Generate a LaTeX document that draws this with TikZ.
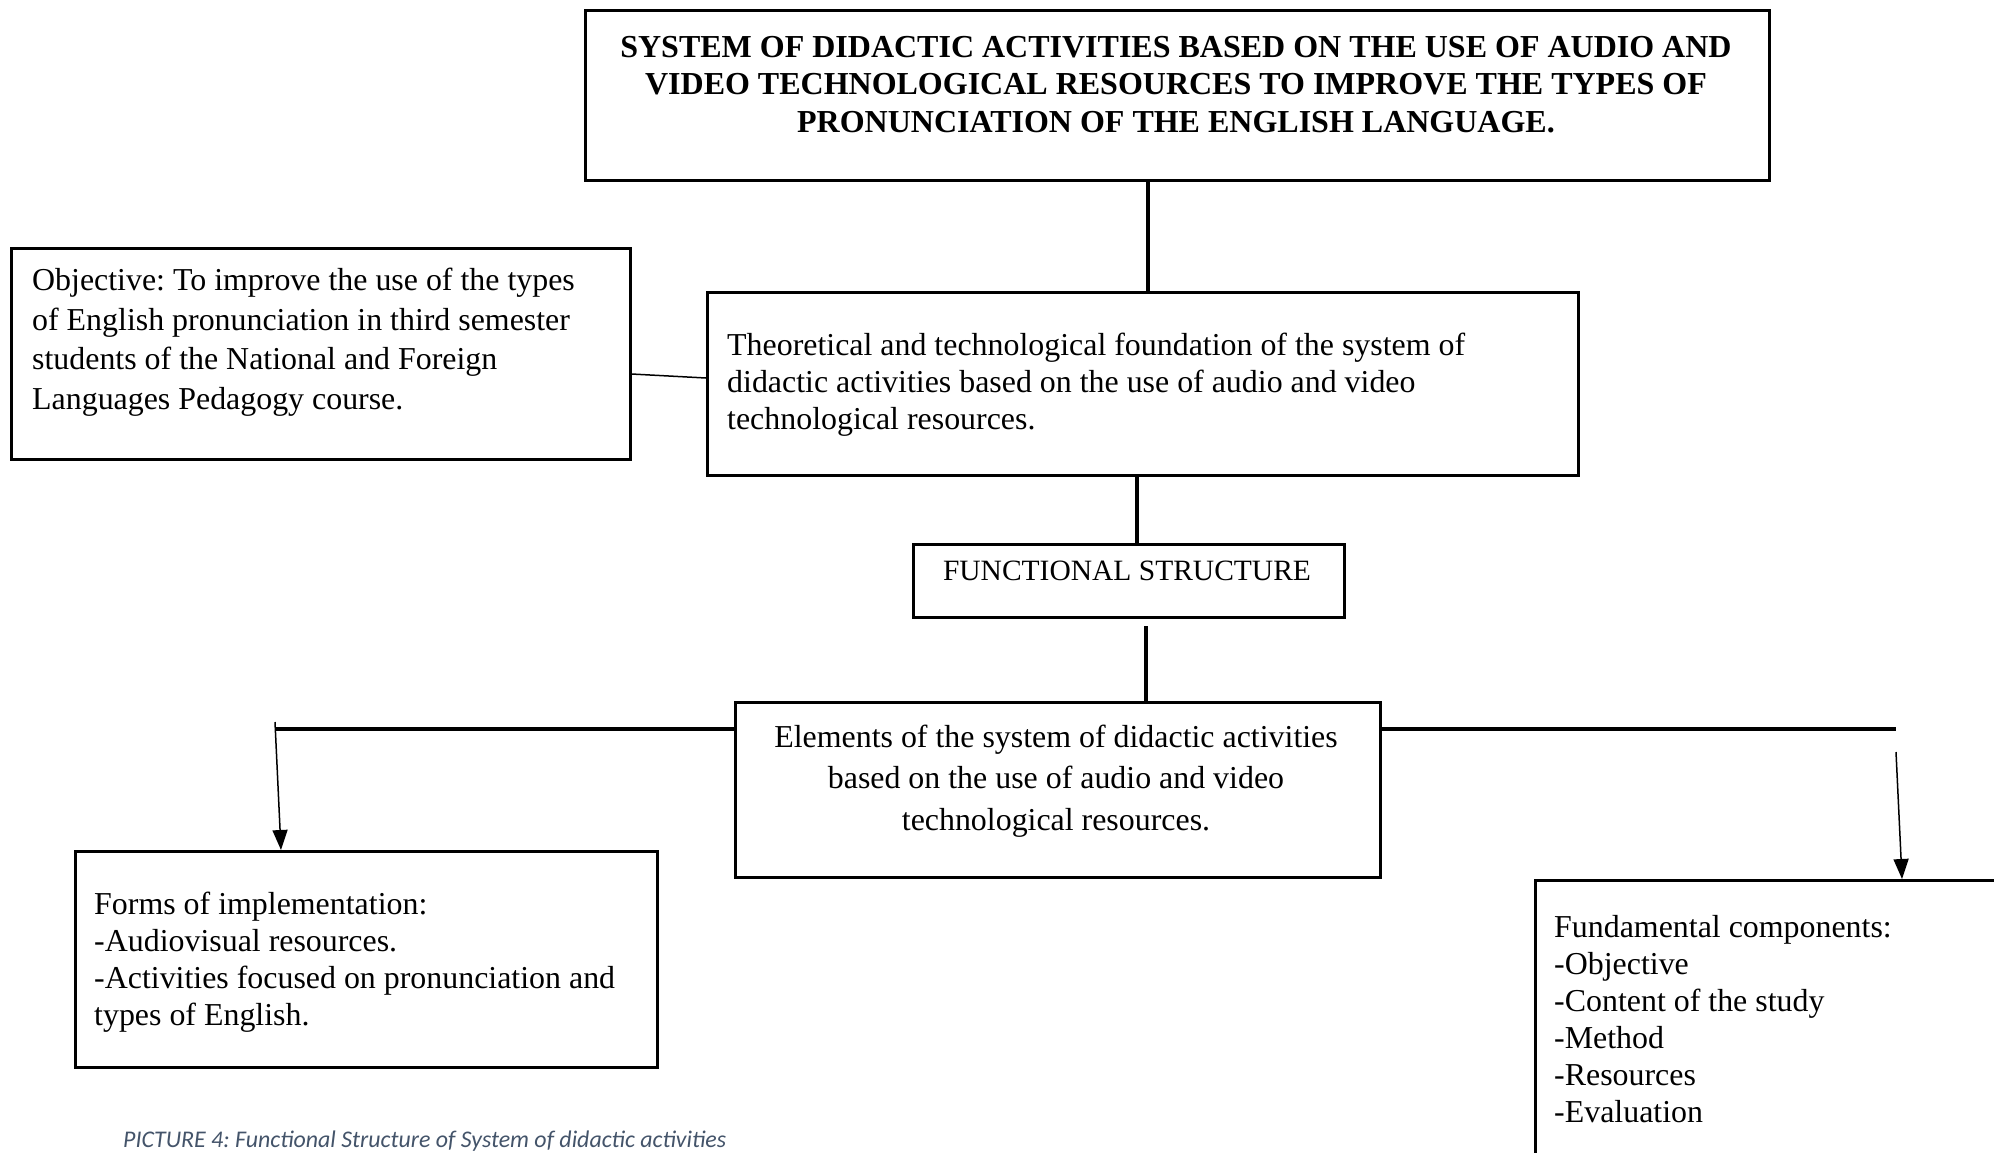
\documentclass[tikz,border=0pt]{standalone}
\usepackage{fontspec}
\setmainfont{Liberation Serif}
\newfontfamily\capfont{Carlito}
\usetikzlibrary{arrows.meta}
\definecolor{capcol}{HTML}{44546A}
\frenchspacing
\newcommand\bodyfont{\fontsize{31.9}{37}\selectfont}
\newcommand\funcfont{\fontsize{29.5}{37}\selectfont}
\newcommand\objfont{\fontsize{31.9}{39.5}\selectfont}
\newcommand\elemfont{\fontsize{31.9}{41.5}\selectfont}
\newcommand\titlefont{\fontsize{32}{37.5}\selectfont\bfseries}
\begin{document}
\begin{tikzpicture}[x=1pt,y=-1pt,
  box/.style={draw,line width=2.5pt,rectangle,inner sep=0pt,anchor=north west},
  txt/.style={inner sep=0pt,font=\bodyfont},
  vline/.style={line width=3.6pt},
  hline/.style={line width=4.5pt},
  thinline/.style={line width=1.5pt},
  arr/.style={line width=1.5pt,-{Triangle[length=20pt,width=15pt]}}]
\useasboundingbox (0,0) rectangle (1994,1152);
\fill[white] (0,0) rectangle (1994,1152);
\clip (0,0) rectangle (1994,1152);
% boxes
\node[box,minimum width=1184pt,minimum height=170pt] (title) at (584,9) {};
\node[box,minimum width=619pt,minimum height=211pt] (obj) at (10,247) {};
\node[box,minimum width=871pt,minimum height=183pt] (theo) at (706,291) {};
\node[box,minimum width=431pt,minimum height=73pt] (func) at (912,543) {};
\node[box,minimum width=645pt,minimum height=175pt] (elem) at (734,701) {};
\node[box,minimum width=582pt,minimum height=216pt] (forms) at (74,850) {};
\node[box,minimum width=476pt,minimum height=291pt] (fund) at (1534,879) {};
% texts
\node[txt,anchor=north,align=center,font=\titlefont] (title-t) at (1176,31)
  {\strut SYSTEM OF DIDACTIC ACTIVITIES BASED ON THE USE OF AUDIO AND\\
   VIDEO TECHNOLOGICAL RESOURCES TO IMPROVE THE TYPES OF\\
   PRONUNCIATION OF THE ENGLISH LANGUAGE.};
\node[txt,anchor=north west,align=left,font=\objfont] (obj-t) at (32,263)
  {\strut Objective: To improve the use of the types\\
   of English pronunciation in third semester\\
   students of the National and Foreign\\
   Languages Pedagogy course.};
\node[txt,anchor=north west,align=left] (theo-t) at (727,329)
  {\strut Theoretical and technological foundation of the system of\\
   didactic activities based on the use of audio and video\\
   technological resources.};
\node[txt,anchor=north,align=center,font=\funcfont] (func-t) at (1127,554)
  {\strut FUNCTIONAL STRUCTURE};
\node[txt,anchor=north,align=center,font=\elemfont] (elem-t) at (1056,718)
  {\strut Elements of the system of didactic activities\\
   based on the use of audio and video\\
   technological resources.};
\node[txt,anchor=north west,align=left] (forms-t) at (94,888)
  {\strut Forms of implementation:\\
   -Audiovisual resources.\\
   -Activities focused on pronunciation and\\
   types of English.};
\node[txt,anchor=north west,align=left] (fund-t) at (1554,911)
  {\strut Fundamental components:\\
   -Objective\\
   -Content of the study\\
   -Method\\
   -Resources\\
   -Evaluation};
% caption
\node[inner sep=0pt,anchor=west,font=\capfont\itshape\fontsize{23.9}{28}\selectfont,text=capcol] (cap) at (123,1141)
  {PICTURE 4: Functional Structure of System of didactic activities};
% connectors
\coordinate (v1) at (1148,0);
\draw[vline] (title.south -| v1) -- (theo.north -| v1);
\coordinate (v2) at (1137,0);
\draw[vline] (theo.south -| v2) -- (func.north -| v2);
\coordinate (v3) at (1146,626);
\draw[vline] (v3) -- (elem.north -| v3);
\coordinate (o1) at (0,374);
\coordinate (o2) at (0,378);
\draw[thinline] (obj.east |- o1) -- (theo.west |- o2);
\coordinate (hl) at (275,729);
\coordinate (hr) at (1896,729);
\draw[hline] (hl) -- (elem.west |- hl);
\draw[hline] (elem.east |- hr) -- (hr);
\coordinate (al) at (275,722);
\coordinate (alend) at (281,0);
\draw[arr] (al) -- (forms.north -| alend);
\coordinate (ar) at (1896,752);
\coordinate (arend) at (1902,0);
\draw[arr] (ar) -- (fund.north -| arend);
\end{tikzpicture}
\end{document}
